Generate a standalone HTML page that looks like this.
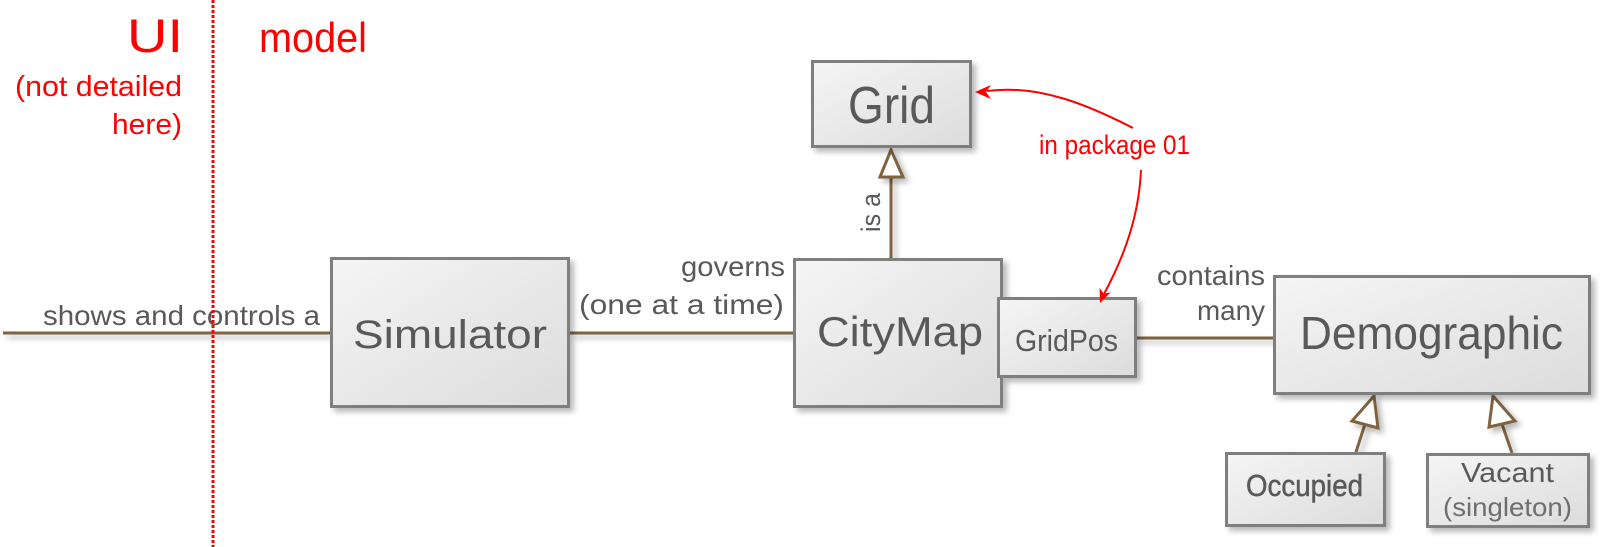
<!DOCTYPE html>
<html>
<head>
<meta charset="utf-8">
<style>
  html, body { margin: 0; padding: 0; background: #ffffff; }
  body { width: 1604px; height: 547px; overflow: hidden; }
  svg { display: block; }
  text { font-family: "Liberation Sans", "DejaVu Sans", sans-serif; }
</style>
</head>
<body>
<svg width="1604" height="547" viewBox="0 0 1604 547" xmlns="http://www.w3.org/2000/svg">
  <defs>
    <linearGradient id="fillg" x1="0" y1="0" x2="1" y2="1">
      <stop offset="0" stop-color="#f5f5f5"/>
      <stop offset="1" stop-color="#dcdcdc"/>
    </linearGradient>
    <filter id="sh" filterUnits="userSpaceOnUse" x="0" y="0" width="1604" height="547">
      <feDropShadow dx="4" dy="4" stdDeviation="3" flood-color="#000" flood-opacity="0.28"/>
    </filter>
  </defs>

  <!-- connectors (brown) -->
  <g stroke="#7f6440" stroke-width="3" fill="none" filter="url(#sh)">
    <line x1="3" y1="333" x2="330" y2="333"/>
    <line x1="570" y1="333" x2="793" y2="333"/>
    <line x1="1137" y1="338" x2="1273" y2="338"/>
    <line x1="891" y1="177" x2="891" y2="258"/>
    <line x1="1356" y1="452" x2="1365" y2="424"/>
    <line x1="1512" y1="453" x2="1502" y2="424"/>
  </g>
  <g stroke="#7f6440" stroke-width="3" fill="#ffffff" stroke-linejoin="miter" filter="url(#sh)">
    <polygon points="891,150 880,177 903,177"/>
    <polygon points="1374,396 1352,421 1378,428"/>
    <polygon points="1493,396 1489,427 1515,421"/>
  </g>

  <!-- boxes -->
  <g fill="url(#fillg)" stroke="#7f7f7f" stroke-width="3" filter="url(#sh)">
    <rect x="812.5" y="61.5" width="158" height="85"/>
    <rect x="331.5" y="258.5" width="237" height="148"/>
    <rect x="794.5" y="259.5" width="207" height="147"/>
    <rect x="998.5" y="298.5" width="137" height="78"/>
    <rect x="1274.5" y="276.5" width="315" height="117"/>
    <rect x="1226.5" y="453.5" width="158" height="72"/>
    <rect x="1427.5" y="454.5" width="161" height="72"/>
  </g>

  <!-- box labels -->
  <g fill="#595959">
    <text x="848" y="123" font-size="52" textLength="87" lengthAdjust="spacingAndGlyphs">Grid</text>
    <text x="353" y="348" font-size="40" textLength="194" lengthAdjust="spacingAndGlyphs">Simulator</text>
    <text x="817" y="346" font-size="42" textLength="166" lengthAdjust="spacingAndGlyphs">CityMap</text>
    <text x="1015" y="351" font-size="31" textLength="103" lengthAdjust="spacingAndGlyphs">GridPos</text>
    <text x="1300" y="349" font-size="46" textLength="263" lengthAdjust="spacingAndGlyphs">Demographic</text>
    <text x="1246" y="496" font-size="31" textLength="117" lengthAdjust="spacingAndGlyphs" stroke="#595959" stroke-width="0.5">Occupied</text>
    <text x="1461" y="482" font-size="28" textLength="93" lengthAdjust="spacingAndGlyphs">Vacant</text>
    <text x="1443" y="516" font-size="26" textLength="129" lengthAdjust="spacingAndGlyphs" fill="#6e6e6e">(singleton)</text>
  </g>

  <!-- connector labels -->
  <g fill="#595959" font-size="28">
    <text x="43" y="325" textLength="277" lengthAdjust="spacingAndGlyphs">shows and controls a</text>
    <text x="681" y="276" textLength="104" lengthAdjust="spacingAndGlyphs">governs</text>
    <text x="579" y="314" textLength="205" lengthAdjust="spacingAndGlyphs">(one at a time)</text>
    <text x="1157" y="285" textLength="108" lengthAdjust="spacingAndGlyphs">contains</text>
    <text x="1197" y="320" textLength="68" lengthAdjust="spacingAndGlyphs">many</text>
    <text transform="translate(880,232) rotate(-90)" x="0" y="0" font-size="27" textLength="39" lengthAdjust="spacingAndGlyphs">is a</text>
  </g>

  <!-- red annotations -->
  <line x1="213" y1="0" x2="213" y2="547" stroke="#ff0000" stroke-width="3" stroke-dasharray="3 2"/>
  <g fill="#ff0000">
    <text x="127" y="52" font-size="47" textLength="56" lengthAdjust="spacingAndGlyphs">UI</text>
    <text x="259" y="52" font-size="42" textLength="108" lengthAdjust="spacingAndGlyphs">model</text>
    <text x="15" y="96" font-size="29" textLength="167" lengthAdjust="spacingAndGlyphs">(not detailed</text>
    <text x="112" y="134" font-size="29" textLength="70" lengthAdjust="spacingAndGlyphs">here)</text>
    <text x="1039" y="154" font-size="27" textLength="151" lengthAdjust="spacingAndGlyphs">in package 01</text>
  </g>
  <g stroke="#ff0000" stroke-width="2" fill="none">
    <path d="M1133,128 C1090,106 1040,84 987,91"/>
    <path d="M1141,170 C1139,215 1125,255 1104,294"/>
  </g>
  <g fill="#ff0000">
    <polygon points="975,92 991,85 986,92 991,99"/>
    <polygon points="1100,303 1099.6,287.8 1103.7,293.7 1110.8,292.2"/>
  </g>
</svg>
</body>
</html>
